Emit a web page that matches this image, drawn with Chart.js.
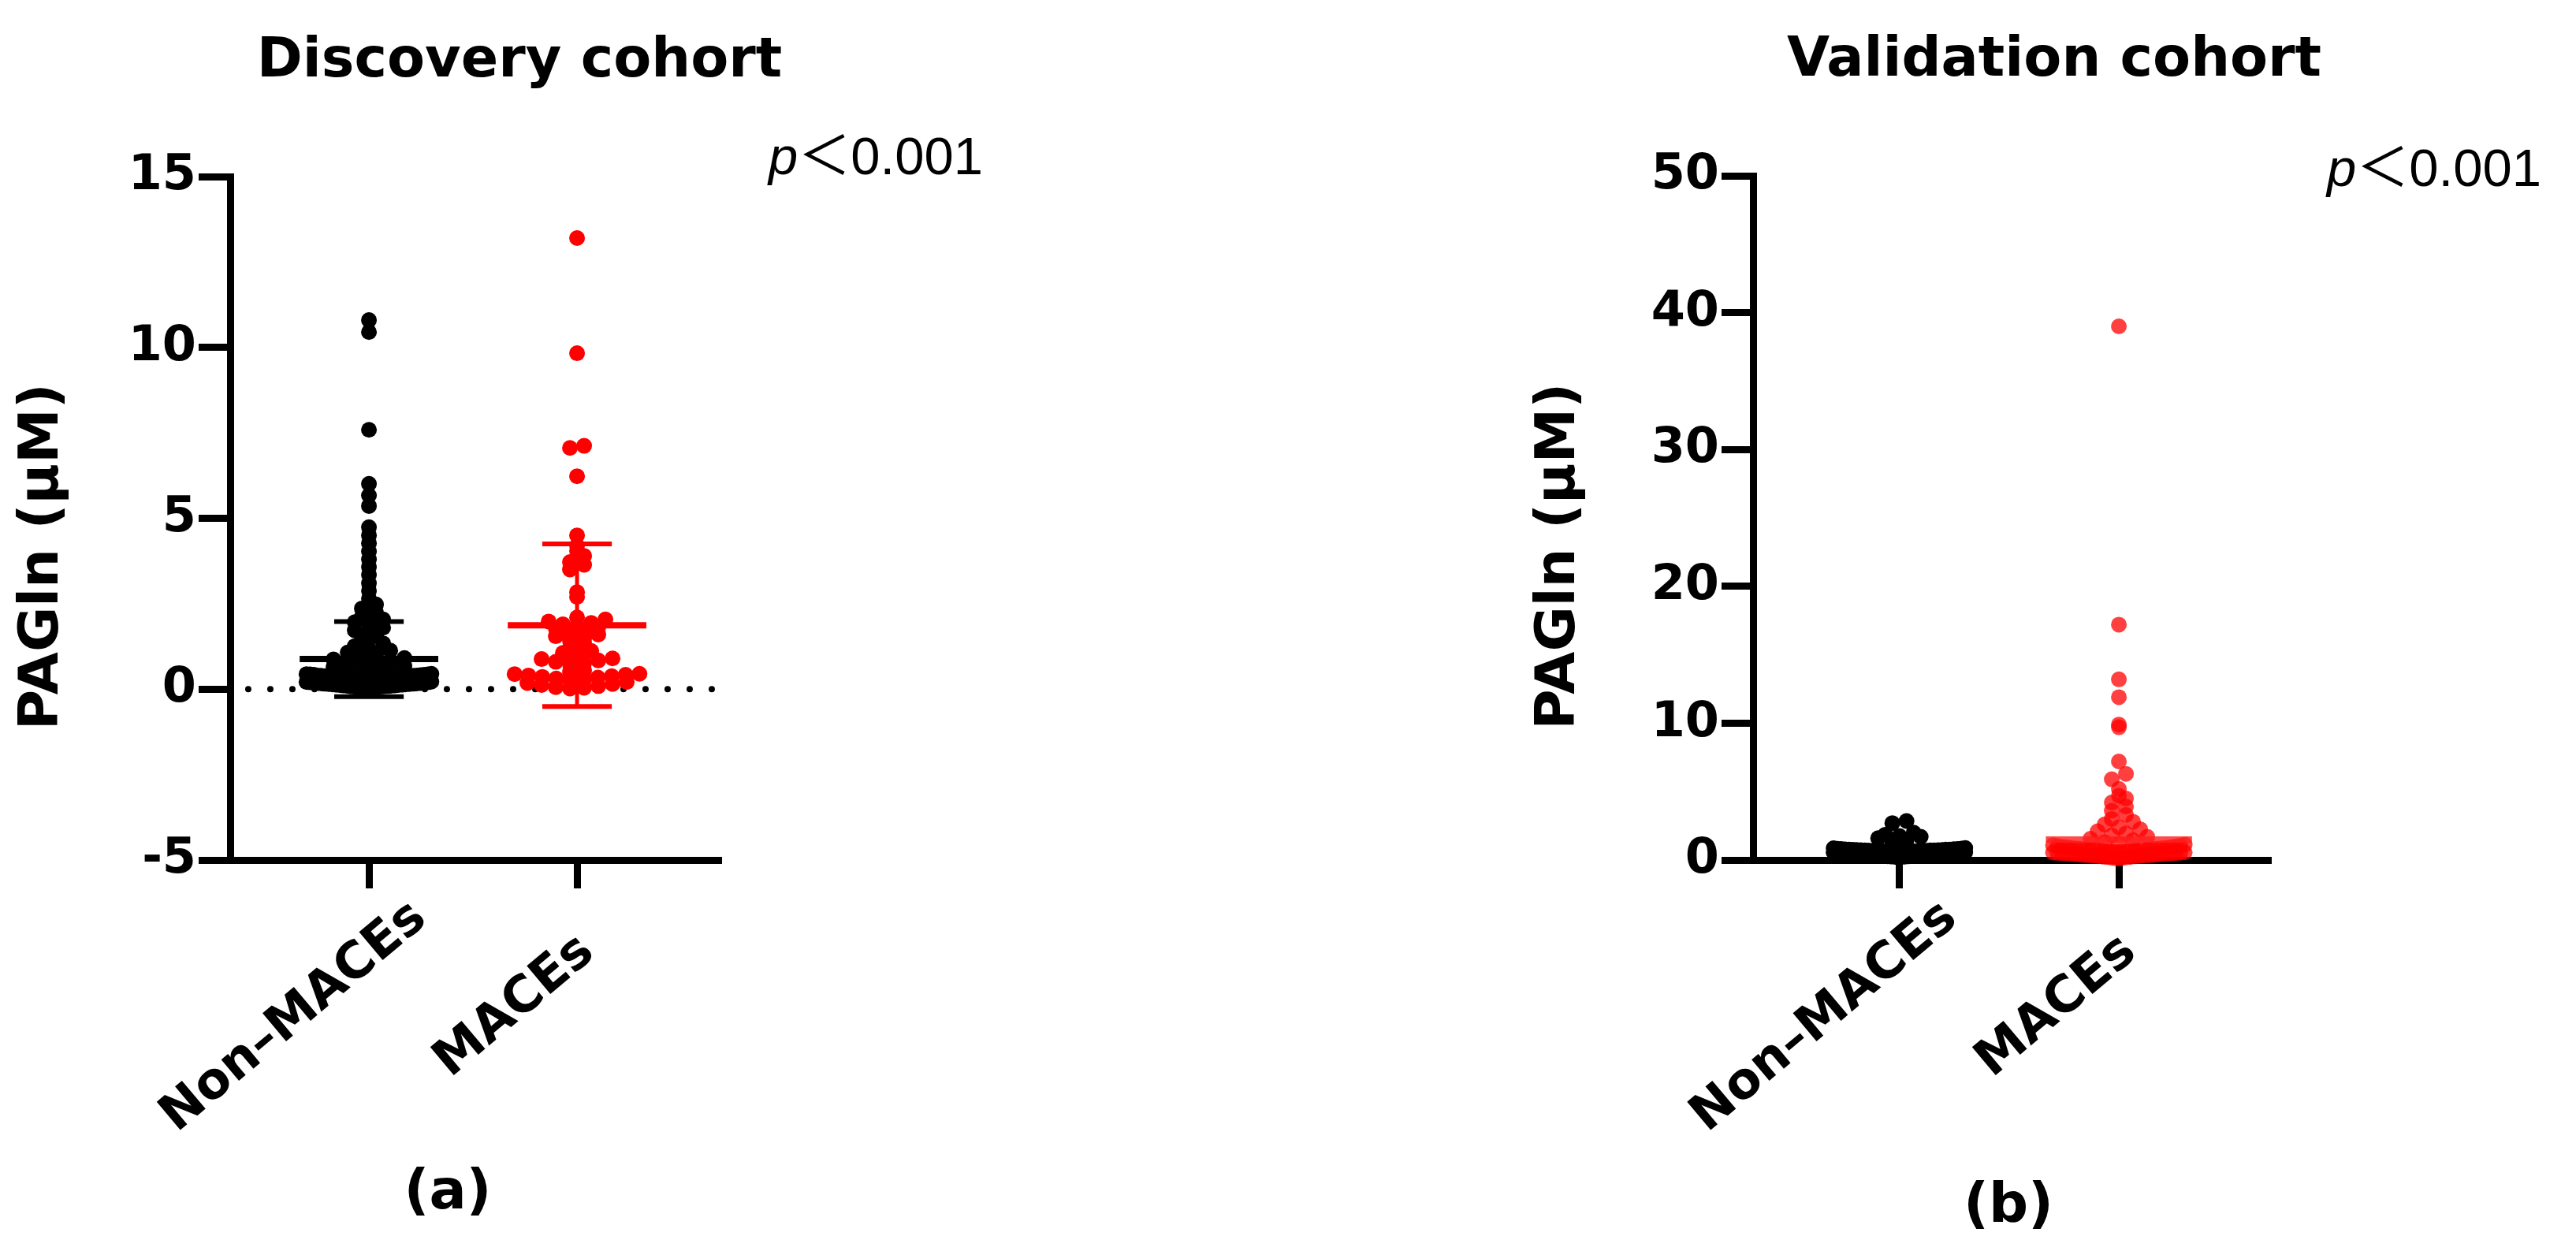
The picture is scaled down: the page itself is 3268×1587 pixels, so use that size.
<!DOCTYPE html>
<html><head><meta charset="utf-8">
<script src="https://cdn.jsdelivr.net/npm/chart.js@4/dist/chart.umd.min.js"></script>
<style>
html,body{margin:0;padding:0;background:#fff;width:3268px;height:1587px;overflow:hidden;}
.c{position:absolute;top:0;width:1634px;height:1587px;}
.t{position:absolute;font-family:"DejaVu Sans","Liberation Sans",sans-serif;color:#000;white-space:nowrap;line-height:1;}
.b{font-weight:bold;}
.ctr{transform:translateX(-50%);}
.pv{font-family:"Liberation Sans",Arial,sans-serif;font-size:67px;}
.pv .lt{font-family:"Noto Sans CJK SC","Liberation Sans",sans-serif;}
</style></head><body>
<div class="c" style="left:0"><canvas id="c1" width="1634" height="1587"></canvas></div>
<div class="c" style="left:1634px"><canvas id="c2" width="1634" height="1587"></canvas></div>
<div class="t b ctr" style="left:659px;top:38px;font-size:70px;">Discovery cohort</div>
<div class="t b ctr" style="left:2606px;top:37px;font-size:70px;">Validation cohort</div>
<div class="t pv" style="left:975px;top:158px;"><i>p</i><span class="lt">＜</span>0.001</div>
<div class="t pv" style="left:2952px;top:173px;"><i>p</i><span class="lt">＜</span>0.001</div>
<div class="t b ctr" style="left:568px;top:1474px;font-size:70px;">(a)</div>
<div class="t b ctr" style="left:2548px;top:1491px;font-size:70px;">(b)</div>
<script>
// ---------------- data ----------------
const categories = ['Non–MACEs', 'MACEs'];
const yAxisTitle = 'PAGln (μM)';
const discoveryTicks = [-5, 0, 5, 10, 15];
const validationTicks = [0, 10, 20, 30, 40, 50];

const discoveryNonMACEs = [
  0.02,0.03,0.04,0.05,0.06,0.07,0.08,0.09,0.10,0.11,0.12,0.13,0.14,0.15,0.16,0.17,0.18,0.19,0.20,0.21,
  0.22,0.05,0.08,0.11,0.14,0.17,0.20,0.07,0.13,0.19,0.10,0.16,0.12,0.15,0.18,
  0.24,0.25,0.26,0.27,0.28,0.29,0.30,0.31,0.32,0.33,0.34,0.35,0.36,0.37,0.38,0.39,0.40,0.41,0.42,0.43,
  0.44,0.45,0.25,0.28,0.31,0.34,0.37,0.40,0.43,0.27,0.33,0.39,0.30,0.36,0.42,
  0.48,0.53,0.57,0.61,0.65,0.68,
  0.71,0.75,0.79,0.83,0.87,0.91,
  0.95,1.01,1.07,1.13,
  1.18,1.26,1.34,
  1.43,1.55,
  1.65,1.72,1.80,
  1.88,1.96,2.04,
  2.12,2.24,
  2.36,2.48,
  2.65,2.88,3.10,3.35,3.58,3.80,4.03,4.27,4.50,4.74,
  5.36,5.67,6.01,7.59,10.45,10.80
];
const discoveryMACEs = [
  0.02,0.04,0.06,0.09,0.12,0.15,0.18,0.21,
  0.25,0.28,0.31,0.34,0.36,0.38,0.40,0.42,0.44,0.45,
  0.50,0.55,
  0.72,0.76,0.80,0.84,0.88,0.90,
  1.00,1.06,1.12,
  1.20,1.33,
  1.42,1.48,1.55,1.60,
  1.66,1.72,1.78,1.82,
  1.86,1.90,1.94,1.98,2.04,
  2.10,2.70,2.84,3.50,3.64,3.72,3.90,4.04,4.20,4.50,
  6.23,7.06,7.12,9.83,13.2
];
const validationNonMACEs = [
  0.20,0.22,0.24,0.25,0.27,0.28,0.30,0.31,0.32,0.34,0.35,0.36,0.37,0.38,0.39,0.40,0.41,0.42,0.43,0.44,
  0.45,0.46,0.47,0.48,0.49,0.50,0.51,0.52,0.53,0.54,0.55,0.56,0.57,0.26,0.33,0.38,0.43,0.48,0.52,0.29,
  0.58,0.59,0.60,0.61,0.62,0.63,0.64,0.65,0.66,0.67,0.68,0.69,0.70,0.71,0.72,0.73,0.74,0.75,0.76,0.77,
  0.78,0.79,0.80,0.82,0.84,0.86,0.88,0.60,0.64,0.68,0.72,0.76,0.63,0.70,0.81,
  1.30,1.45,1.60,1.70,
  1.75,1.85,2.00,
  2.70,2.85
];
const validationMACEs = [
  0.10,0.13,0.16,0.19,0.22,0.25,0.28,0.30,0.32,0.34,0.36,0.38,0.40,0.42,0.44,0.46,0.48,0.50,0.52,0.54,
  0.56,0.21,0.33,0.45,0.51,0.27,0.39,0.47,0.55,0.35,
  0.58,0.60,0.62,0.64,0.66,0.68,0.70,0.72,0.74,0.76,0.78,0.80,0.82,0.84,0.86,0.88,0.90,0.93,0.96,0.99,
  1.02,1.05,1.08,1.12,0.61,0.69,0.77,0.85,0.94,0.71,
  1.20,1.30,1.45,1.55,1.70,
  1.80,1.95,2.10,2.25,
  2.40,2.60,2.80,
  3.00,3.30,3.60,3.90,4.20,4.50,
  4.70,5.20,5.90,6.30,7.20,9.70,9.90,11.9,13.2,17.2,39.0
];
const discoveryMean = [0.88, 1.87];
const discoverySD = [1.10, 2.38];
const validationMean = [0.85, 1.50];

// ---------------- drawing ----------------
const FONT = '"DejaVu Sans", "Liberation Sans", sans-serif';
const NBSP = '\u00a0';

function swarmPoints(chart, values, cat, r, maxHalfUnits) {
  const ys = chart.scales.y, xs = chart.scales.x;
  const pxPerX = Math.abs(xs.getPixelForValue(1) - xs.getPixelForValue(0));
  const d = 2 * r, rowH = r;
  const zeroPix = ys.getPixelForValue(0);
  const rows = new Map();
  values.forEach((v, i) => {
    const k = Math.floor((zeroPix - ys.getPixelForValue(v)) / rowH + 1e-6);
    if (!rows.has(k)) rows.set(k, []);
    rows.get(k).push(i);
  });
  const out = values.map(v => ({x: cat, y: v}));
  const maxHalfPx = maxHalfUnits * pxPerX;
  rows.forEach(idx => {
    const n = idx.length;
    if (n < 2) return;
    idx.sort((a, b) => values[a] - values[b]);
    const s = Math.min(0.9 * d, 2 * maxHalfPx / (n - 1));
    const slots = [];
    for (let j = 0; j < n; j++) slots.push((j - (n - 1) / 2) * s);
    slots.sort((a, b) => Math.abs(a) - Math.abs(b) || a - b);
    idx.forEach((pi, j) => { out[pi].x = cat + slots[j] / pxPerX; });
  });
  return out;
}

function buildPanel(id, p) {
  const datasets = [];
  p.groups.forEach((g, i) => {
    datasets.push({
      data: g.map(v => ({x: i, y: v})),
      backgroundColor: p.colors[i], borderWidth: 0,
      pointRadius: p.r, pointHoverRadius: p.r, order: 2, clip: false
    });
  });
  p.mean.forEach((m, i) => {
    datasets.push({
      data: [{x: i - 0.333, y: m}, {x: i + 0.333, y: m}],
      showLine: true, borderColor: p.lineColors[i], borderWidth: 8,
      pointRadius: 0, order: 1, clip: false
    });
    if (p.sd) {
      const s = p.sd[i];
      datasets.push({data: [{x: i, y: m - s}, {x: i, y: m + s}], showLine: true,
        borderColor: p.lineColors[i], borderWidth: 5, pointRadius: 0, order: 1, clip: false});
      datasets.push({data: [{x: i - 0.167, y: m + s}, {x: i + 0.167, y: m + s}], showLine: true,
        borderColor: p.lineColors[i], borderWidth: 6, pointRadius: 0, order: 1, clip: false});
      datasets.push({data: [{x: i - 0.167, y: m - s}, {x: i + 0.167, y: m - s}], showLine: true,
        borderColor: p.lineColors[i], borderWidth: 6, pointRadius: 0, order: 1, clip: false});
    }
  });
  if (p.zeroLine) {
    datasets.push({data: [{x: -0.58, y: 0}, {x: 1.67, y: 0}], showLine: true,
      borderColor: '#000', borderWidth: 8, borderDash: [0, 28], borderCapStyle: 'round',
      pointRadius: 0, order: 3, clip: false});
  }
  const W = p.canvasW, H = p.canvasH, A = p.area;
  const chart = new Chart(document.getElementById(id), {
    type: 'scatter',
    data: {datasets},
    options: {
      responsive: false, animation: false, events: [],
      plugins: {legend: {display: false}, tooltip: {enabled: false}},
      layout: {padding: {left: 0, top: A.top, right: W - A.right, bottom: 0}},
      scales: {
        x: {
          type: 'linear', min: -0.667, max: 1.693,
          afterBuildTicks: s => { s.ticks = categories.map((c, i) => ({value: i})); },
          afterFit: s => { s.height = H - A.bottom; },
          ticks: {callback: v => (v === 1 ? categories[v] + NBSP.repeat(3) : categories[v]),
            autoSkip: false, minRotation: 40, maxRotation: 40, labelOffset: 65,
            color: '#000', font: {family: FONT, size: 64, weight: 'bold'}, padding: 0},
          grid: {display: true, drawOnChartArea: false, drawTicks: true, tickLength: 36,
            tickWidth: 9, tickColor: '#000'},
          border: {display: true, color: '#000', width: 9}
        },
        y: {
          type: 'linear', min: p.ticks[0], max: p.ticks[p.ticks.length - 1],
          afterBuildTicks: s => { s.ticks = p.ticks.map(v => ({value: v})); },
          afterFit: s => { s.width = A.left; },
          ticks: {color: '#000', font: {family: FONT, size: 62, weight: 'bold'}, padding: 3},
          grid: {display: true, drawOnChartArea: false, drawTicks: true, tickLength: 40,
            tickWidth: 9, tickColor: '#000'},
          border: {display: true, color: '#000', width: 9},
          title: {display: true, text: yAxisTitle + NBSP.repeat(4), color: '#000',
            font: {family: FONT, size: 70, weight: 'bold'}, padding: {top: p.titlePad, bottom: 0}}
        }
      }
    }
  });
  p.groups.forEach((g, i) => {
    chart.data.datasets[i].data = swarmPoints(chart, g, i, p.r, 0.30);
  });
  chart.update('none');
  return chart;
}

buildPanel('c1', {
  groups: [discoveryNonMACEs, discoveryMACEs],
  colors: ['#000000', '#ff0000'], lineColors: ['#000000', '#ff0000'],
  mean: discoveryMean, sd: discoverySD, zeroLine: true,
  ticks: discoveryTicks, r: 10, titlePad: 13,
  canvasW: 1634, canvasH: 1587, area: {left: 292, right: 915, top: 224, bottom: 1091}
});
buildPanel('c2', {
  groups: [validationNonMACEs, validationMACEs],
  colors: ['#000000', 'rgba(255,0,0,0.75)'], lineColors: ['#000000', 'rgba(255,30,30,0.8)'],
  mean: validationMean, sd: null, zeroLine: false,
  ticks: validationTicks, r: 10, titlePad: 303,
  canvasW: 1634, canvasH: 1587, area: {left: 590, right: 1247, top: 223, bottom: 1091}
});
</script>
</body></html>
